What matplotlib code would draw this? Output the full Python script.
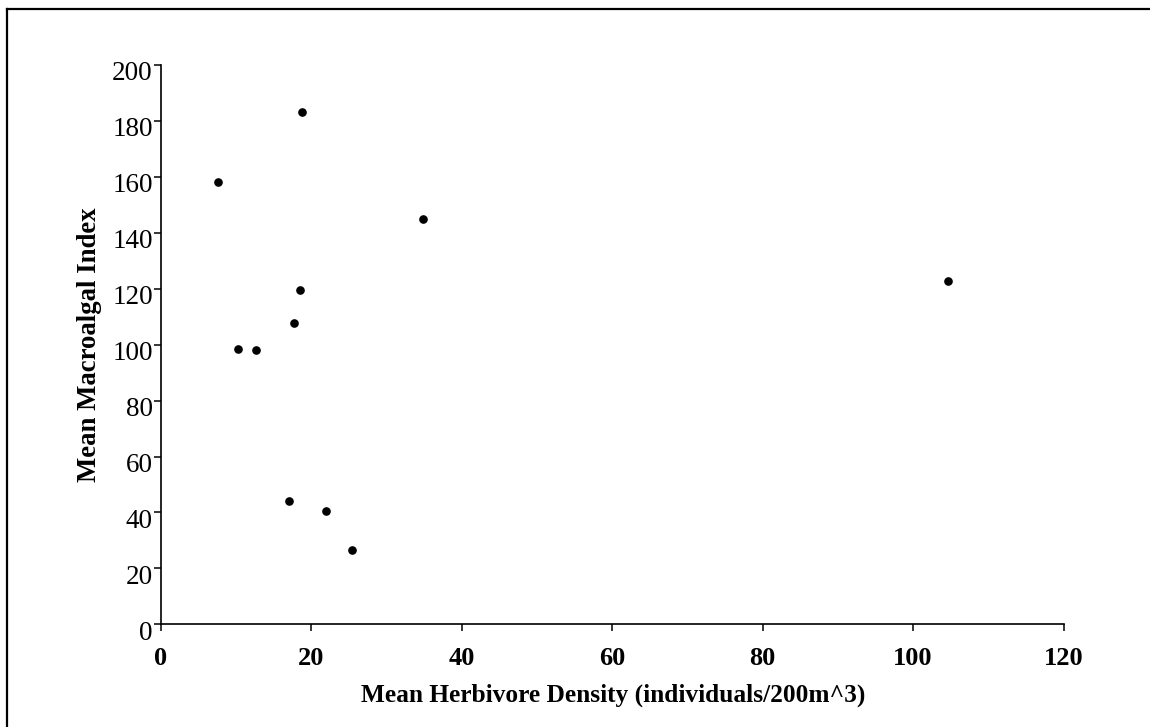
import matplotlib
matplotlib.use("Agg")
import matplotlib.pyplot as plt
import matplotlib.transforms as mtransforms
from matplotlib.lines import Line2D

plt.rcParams['font.family'] = ['Liberation Serif', 'DejaVu Serif']

herbivore_density = [7.7, 18.8, 34.9, 18.5, 17.7, 10.3, 12.7, 17.1, 22.0, 25.5, 104.6]
macroalgal_index = [158.2, 183.1, 144.8, 119.5, 107.7, 98.4, 98.0, 44.0, 40.6, 26.7, 122.8]
x_ticks = [0, 20, 40, 60, 80, 100, 120]
y_ticks = [0, 20, 40, 60, 80, 100, 120, 140, 160, 180, 200]
x_label = "Mean Herbivore Density (individuals/200m^3)"
y_label = "Mean Macroalgal Index"

W, H, DPI = 1150, 727, 100
fig = plt.figure(figsize=(W / DPI, H / DPI), dpi=DPI)
ax = fig.add_axes([160.5 / W, 1 - 624.3 / H, (1063.5 - 160.5) / W, (624.3 - 65) / H])

ax.plot(herbivore_density, macroalgal_index, linestyle='none', marker='o',
        markersize=5.2, color='black', clip_on=False)

ax.set_xlim(0, 120)
ax.set_ylim(0, 200)
ax.set_xticks(x_ticks)
ax.set_yticks(y_ticks)
ax.set_xticklabels([str(v) for v in x_ticks], fontweight='bold', fontsize=19)
ax.set_yticklabels([str(v) for v in y_ticks], fontsize=19.5)

for s in ['top', 'right']:
    ax.spines[s].set_visible(False)
for s in ['left', 'bottom']:
    ax.spines[s].set_linewidth(1.2)
    ax.spines[s].set_color('black')

ax.tick_params(axis='both', direction='out', length=5, width=1.1, color='black')
ax.tick_params(axis='x', pad=11)
ax.tick_params(axis='y', pad=0.5)

offset = mtransforms.ScaledTranslation(0, -6 / DPI, fig.dpi_scale_trans)
for lbl in ax.get_yticklabels():
    lbl.set_transform(lbl.get_transform() + offset)

fig.text(613 / W, 1 - 695 / H, x_label, ha='center', va='center',
         fontsize=18.3, fontweight='bold')
fig.text(90 / W, 1 - 345 / H, y_label, ha='center', va='center',
         rotation=90, fontsize=19.3, fontweight='bold')

# figure border (top and left visible)
fig.add_artist(Line2D([6.5 / W, 6.5 / W], [0, 1 - 8.5 / H], transform=fig.transFigure,
                      color='black', linewidth=1.6))
fig.add_artist(Line2D([6.5 / W, 1], [1 - 8.5 / H, 1 - 8.5 / H], transform=fig.transFigure,
                      color='black', linewidth=1.6))

fig.savefig("out.png", dpi=DPI)
